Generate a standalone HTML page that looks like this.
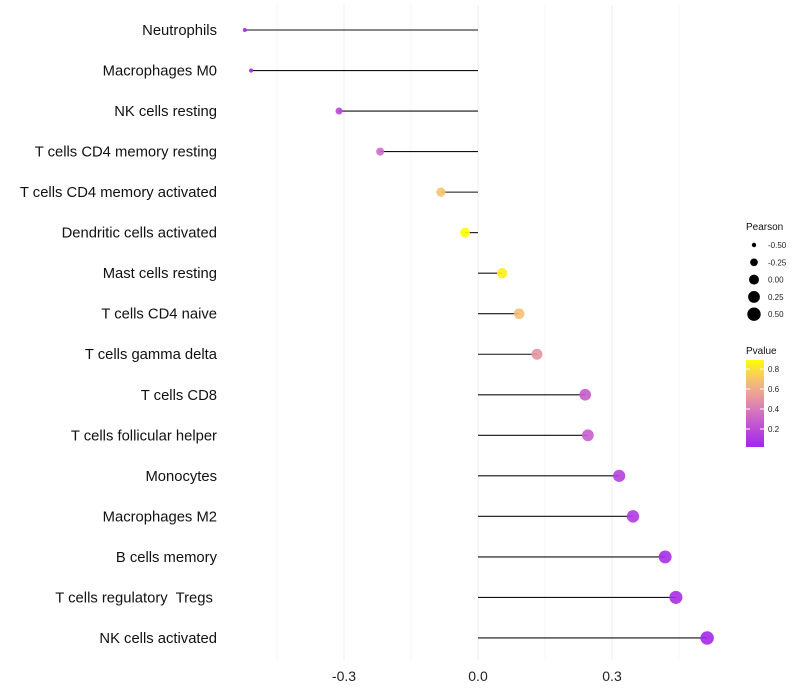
<!DOCTYPE html>
<html><head><meta charset="utf-8"><style>
body{margin:0;background:#fff;font-family:"Liberation Sans",sans-serif}
svg{display:block}
text{white-space:pre}
</style></head><body>
<svg id="c" width="800" height="700"></svg>
<script>
const categories=["Neutrophils","Macrophages M0","NK cells resting","T cells CD4 memory resting","T cells CD4 memory activated","Dendritic cells activated","Mast cells resting","T cells CD4 naive","T cells gamma delta","T cells CD8","T cells follicular helper","Monocytes","Macrophages M2","B cells memory","T cells regulatory  Tregs ","NK cells activated"];
const pearson=[-0.522,-0.508,-0.311,-0.219,-0.083,-0.029,0.054,0.092,0.132,0.24,0.246,0.316,0.347,0.419,0.443,0.513];
const pvalue=[0.03,0.04,0.18,0.33,0.7,0.9,0.85,0.68,0.5,0.27,0.28,0.15,0.12,0.06,0.06,0.04];
const xTicks=[-0.3,0,0.3];
const xTickLabels=["-0.3","0.0","0.3"];
const sizeLegend=[-0.5,-0.25,0,0.25,0.5];
const pLegend=[0.8,0.6,0.4,0.2];
const NS="http://www.w3.org/2000/svg";
const svg=document.getElementById('c');
function mk(t,a,p){const e=document.createElementNS(NS,t);for(const k in a)e.setAttribute(k,a[k]);(p||svg).appendChild(e);return e;}
const x=v=>478+v*446.7;
const y=i=>30+i*40.53;
const r=v=>Math.sqrt(4+(v+0.52)*40);
const stops=[[0,[160,32,240]],[0.35,[208,110,196]],[0.55,[236,160,150]],[0.7,[245,196,110]],[0.9,[255,255,0]],[1,[255,255,0]]];
function col(p){for(let i=0;i<stops.length-1;i++){const [a,ca]=stops[i],[b,cb]=stops[i+1];if(p<=b){const t=(p-a)/(b-a);return 'rgb('+ca.map((c,j)=>Math.round(c+(cb[j]-c)*t)).join(',')+')';}}return 'rgb(255,255,0)';}
[-0.45,-0.3,-0.15,0,0.15,0.3,0.45].forEach(v=>{const g=mk('line',{x1:x(v),x2:x(v),y1:5,y2:660,stroke:'#eeeeee','stroke-width':Math.abs(v%0.3)<1e-9?1:0.6});
});
xTicks.forEach((v,i)=>{const t=mk('text',{x:x(v),y:681,'text-anchor':'middle','font-size':14,fill:'#222'});t.textContent=xTickLabels[i];
});
categories.forEach((c,i)=>{
 const t=mk('text',{x:217,y:y(i)+5,'text-anchor':'end','font-size':14.8,fill:'#111'});t.textContent=c;
 
 const l=mk('line',{x1:x(0),x2:x(pearson[i]),y1:y(i),y2:y(i),stroke:'#111','stroke-width':1.1});
 
 const d=mk('circle',{cx:x(pearson[i]),cy:y(i),r:r(pearson[i]),fill:col(pvalue[i]),'fill-opacity':0.9});
 
});
const lt=mk('text',{x:746,y:230,'font-size':10,fill:'#111'});lt.textContent='Pearson';

sizeLegend.forEach((v,i)=>{const cy=245+i*17.3;
 const d=mk('circle',{cx:754,cy:cy,r:r(v),fill:'#000'});
 const t=mk('text',{x:768,y:cy+3,'font-size':8,fill:'#222'});t.textContent=v.toFixed(2);
 });
const pt=mk('text',{x:746,y:354,'font-size':10,fill:'#111'});pt.textContent='Pvalue';

const defs=mk('defs',{});const lg=mk('linearGradient',{id:'g',x1:0,y1:1,x2:0,y2:0},defs);
for(let k=0;k<=10;k++){const p=0.02+k*0.087;mk('stop',{offset:k/10,'stop-color':col(p)},lg);}
const bar=mk('rect',{x:746,y:360,width:18,height:87,fill:'url(#g)'});

pLegend.forEach(p=>{const cy=360+(0.89-p)/0.87*87;
 mk('line',{x1:746,x2:750,y1:cy,y2:cy,stroke:'#fff'});mk('line',{x1:760,x2:764,y1:cy,y2:cy,stroke:'#fff'});
 const t=mk('text',{x:768,y:cy+3,'font-size':8,fill:'#222'});t.textContent=p.toFixed(1);
 });
</script>
</body></html>
